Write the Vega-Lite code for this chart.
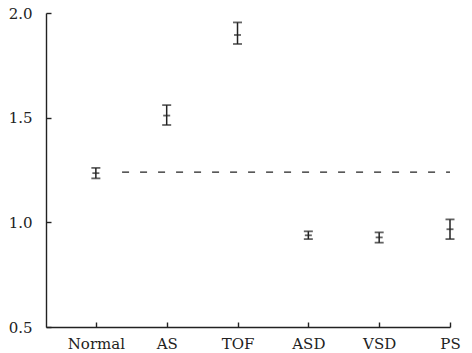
{
  "$schema": "https://vega.github.io/schema/vega-lite/v6.json",
  "width": 404,
  "height": 314,
  "autosize": {"type": "none"},
  "padding": {"left": 46, "top": 13, "right": 22, "bottom": 26},
  "background": "white",
  "config": {
    "view": {"stroke": null},
    "axis": {
      "grid": false,
      "domainColor": "#222222",
      "domainWidth": 1.4,
      "tickColor": "#222222",
      "tickWidth": 1.4,
      "labelFont": "DejaVu Serif",
      "labelFontSize": 15,
      "labelColor": "#222222",
      "title": null
    }
  },
  "datasets": {
    "groups": [
      {"group": "Normal", "idx": 0, "mean": 1.235, "lo": 1.21, "hi": 1.26},
      {"group": "AS", "idx": 1, "mean": 1.51, "lo": 1.465, "hi": 1.56},
      {"group": "TOF", "idx": 2, "mean": 1.895, "lo": 1.852, "hi": 1.955},
      {"group": "ASD", "idx": 3, "mean": 0.938, "lo": 0.92, "hi": 0.957},
      {"group": "VSD", "idx": 4, "mean": 0.928, "lo": 0.903, "hi": 0.952},
      {"group": "PS", "idx": 5, "mean": 0.967, "lo": 0.92, "hi": 1.014}
    ],
    "reference": [
      {"from": 0.37, "to": 5, "level": 1.24}
    ]
  },
  "encoding": {
    "x": {
      "field": "idx",
      "type": "quantitative",
      "scale": {"domain": [-0.704, 5], "nice": false, "zero": false},
      "axis": {
        "values": [0, 1, 2, 3, 4, 5],
        "labelExpr": "['Normal','AS','TOF','ASD','VSD','PS'][datum.value]",
        "tickSize": -5,
        "labelPadding": 14,
        "labelFlush": false
      }
    }
  },
  "layer": [
    {
      "data": {"name": "reference"},
      "mark": {"type": "rule", "strokeDash": [7, 11], "strokeWidth": 1.4, "color": "#222222"},
      "encoding": {
        "x": {"field": "from", "type": "quantitative"},
        "x2": {"field": "to"},
        "y": {"field": "level", "type": "quantitative"}
      }
    },
    {
      "data": {"name": "groups"},
      "mark": {"type": "rule", "strokeWidth": 1.5, "color": "#222222"},
      "encoding": {
        "y": {
          "field": "lo",
          "type": "quantitative",
          "scale": {"domain": [0.5, 2.0], "nice": false, "zero": false},
          "axis": {"values": [0.5, 1.0, 1.5, 2.0], "format": ".1f", "tickSize": -5, "labelPadding": 19}
        },
        "y2": {"field": "hi"}
      }
    },
    {
      "data": {"name": "groups"},
      "mark": {"type": "tick", "orient": "horizontal", "size": 9, "thickness": 1.8, "color": "#222222"},
      "encoding": {"y": {"field": "lo", "type": "quantitative"}}
    },
    {
      "data": {"name": "groups"},
      "mark": {"type": "tick", "orient": "horizontal", "size": 9, "thickness": 1.8, "color": "#222222"},
      "encoding": {"y": {"field": "hi", "type": "quantitative"}}
    },
    {
      "data": {"name": "groups"},
      "mark": {"type": "tick", "orient": "horizontal", "size": 7, "thickness": 1.8, "color": "#222222"},
      "encoding": {"y": {"field": "mean", "type": "quantitative"}}
    }
  ]
}
